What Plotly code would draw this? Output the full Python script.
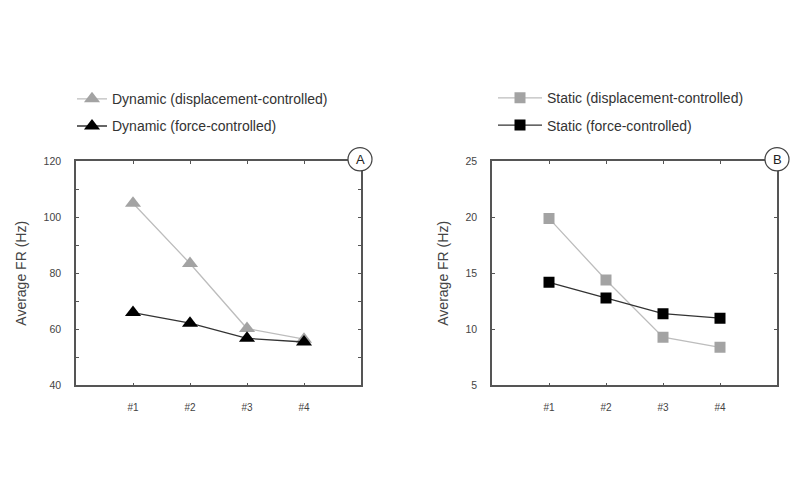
import plotly.graph_objects as go

categories = ["#1", "#2", "#3", "#4"]
x_pos = [1, 2, 3, 4]
dyn_disp = [105, 83.5, 60.3, 56.5]
dyn_force = [66, 62.2, 56.8, 55.5]
stat_disp = [19.9, 14.4, 9.3, 8.4]
stat_force = [14.2, 12.8, 11.4, 11.0]

W, H = 800, 478
OFF = 8  # default page body margin
FONT = "Liberation Sans, Arial, sans-serif"
GREY_M = "#a3a3a3"
GREY_L = "#bdbdbd"
BLACK_M = "#000000"
BLACK_L = "#333333"
FRAME = "#555555"

def px_x(p):
    return (p - OFF) / W

def px_y(p):
    return 1 - (p - OFF) / H

fig = go.Figure()

fig.add_trace(go.Scatter(x=x_pos, y=dyn_disp, mode="lines+markers", name="Dynamic (displacement-controlled)",
                         line=dict(color=GREY_L, width=1.3),
                         marker=dict(symbol="triangle-up", size=14, color=GREY_M, line=dict(width=0)),
                         xaxis="x", yaxis="y", legend="legend", legendgroup="a1"))
fig.add_trace(go.Scatter(x=x_pos, y=dyn_force, mode="lines+markers", name="Dynamic (force-controlled)",
                         line=dict(color=BLACK_L, width=1.3),
                         marker=dict(symbol="triangle-up", size=14, color=BLACK_M, line=dict(width=0)),
                         xaxis="x", yaxis="y", legend="legend", legendgroup="a2"))
fig.add_trace(go.Scatter(x=x_pos, y=stat_disp, mode="lines+markers", name="Static (displacement-controlled)",
                         line=dict(color=GREY_L, width=1.3),
                         marker=dict(symbol="square", size=11, color=GREY_M, line=dict(width=0)),
                         xaxis="x2", yaxis="y2", legend="legend2", legendgroup="b1"))
fig.add_trace(go.Scatter(x=x_pos, y=stat_force, mode="lines+markers", name="Static (force-controlled)",
                         line=dict(color=BLACK_L, width=1.3),
                         marker=dict(symbol="square", size=11, color=BLACK_M, line=dict(width=0)),
                         xaxis="x2", yaxis="y2", legend="legend2", legendgroup="b2"))

xa = dict(range=[0, 5], tickvals=x_pos, ticktext=categories, ticks="inside", ticklen=3,
          tickcolor=FRAME, showline=True, linecolor=FRAME, linewidth=1.5, mirror="ticks",
          showgrid=False, zeroline=False, tickfont=dict(family=FONT, size=10, color="#444"),
          ticklabelstandoff=12, fixedrange=True)
ya_common = dict(ticks="inside", ticklen=3, tickcolor=FRAME, showline=True, linecolor=FRAME,
                 linewidth=1.5, mirror="ticks", showgrid=False, zeroline=False,
                 tickfont=dict(family=FONT, size=10.5, color="#444"), ticklabelstandoff=11,
                 title=dict(text="Average FR (Hz)", font=dict(family=FONT, size=14, color="#444"), standoff=14))

dom_y = [px_y(389), px_y(159)]
fig.update_layout(
    width=W, height=H,
    margin=dict(l=0, r=0, t=0, b=0),
    paper_bgcolor="white", plot_bgcolor="white",
    xaxis=dict(domain=[px_x(76), px_x(361)], anchor="y", **xa),
    yaxis=dict(domain=dom_y, anchor="x", range=[40, 120], dtick=20,
               minor=dict(dtick=10, ticks="inside", ticklen=3, tickcolor=FRAME), **ya_common),
    xaxis2=dict(domain=[px_x(492), px_x(777)], anchor="y2", **xa),
    yaxis2=dict(domain=dom_y, anchor="x2", range=[5, 25], dtick=5, **ya_common),
    legend=dict(x=px_x(72), y=px_y(79), xanchor="left", yanchor="top", bgcolor="rgba(0,0,0,0)",
                font=dict(family=FONT, size=14, color="#333"), tracegroupgap=6, itemwidth=30),
    legend2=dict(x=px_x(493), y=px_y(78), xanchor="left", yanchor="top", bgcolor="rgba(0,0,0,0)",
                 font=dict(family=FONT, size=14, color="#333"), tracegroupgap=6, itemwidth=44),
    showlegend=True,
)

for lab, cx in [("A", 360), ("B", 777)]:
    cy = 157
    r = 12
    fig.add_shape(type="circle", xref="paper", yref="paper",
                  x0=px_x(cx - r), x1=px_x(cx + r), y0=px_y(cy + r), y1=px_y(cy - r),
                  line=dict(color="#444", width=1.2), fillcolor="white", layer="above")
    fig.add_annotation(x=px_x(cx), y=px_y(cy), xref="paper", yref="paper", text=lab, showarrow=False,
                       font=dict(family=FONT, size=13, color="#222"), xanchor="center", yanchor="middle")

fig.write_html("out.html")
